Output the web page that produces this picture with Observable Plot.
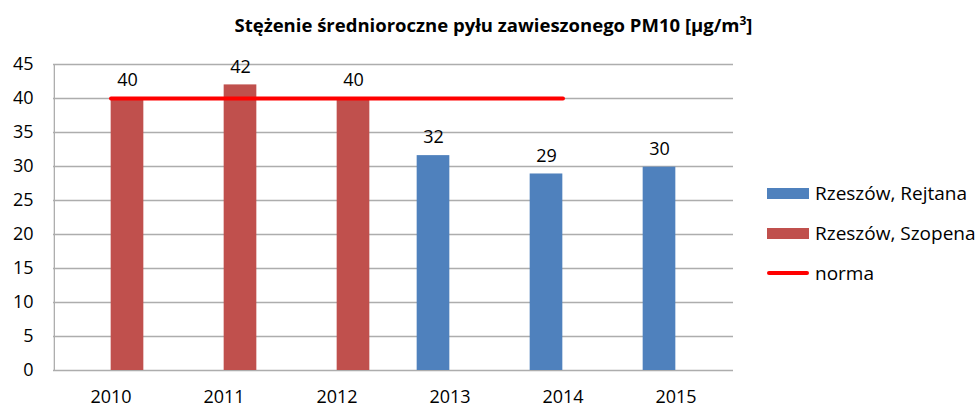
<!DOCTYPE html>
<html>
<head>
<meta charset="utf-8">
<script src="https://cdn.jsdelivr.net/npm/d3@7"></script>
<script src="https://cdn.jsdelivr.net/npm/@observablehq/plot@0.6"></script>
<style>
  html, body { margin: 0; padding: 0; background: #fff; }
  #wrap { position: relative; width: 977px; height: 408px; font-family: "Open Sans", sans-serif; color: #000; }
  #title { position: absolute; left: 0; width: 977px; top: 12px; text-align: center; font-weight: bold; font-size: 18.5px; margin-left: 5px; }
  #legend { position: absolute; left: 767px; top: 173px; font-size: 19px; }
  .item { display: flex; align-items: center; height: 40px; }
  .sw { width: 42px; height: 11px; margin-right: 6px; }
  .ln { width: 42px; height: 4px; border-radius: 2px; margin-right: 6px; }
  #chart svg g[aria-label*="tick label"], #chart svg g[aria-label*="tick label"] text { font-size: 18px !important; fill: #000; }
</style>
</head>
<body>
<div id="wrap">
  <div id="chart"></div>
  <div id="title">Stężenie średnioroczne pyłu zawieszonego PM10 [μg/m<sup style="font-size:12px">3</sup>]</div>
  <div id="legend"></div>
</div>
<script>
const years = ["2010", "2011", "2012", "2013", "2014", "2015"];
const rejtana = [null, null, null, 31.6, 28.9, 29.9];
const szopena = [40, 42, 40, null, null, null];
const norma = [40, 40, 40, 40, 40, null];
const yTicks = [0, 5, 10, 15, 20, 25, 30, 35, 40, 45];
const seriesNames = ["Rzeszów, Rejtana", "Rzeszów, Szopena", "norma"];
const colors = ["#4F81BD", "#C0504D", "#FF0000"];

const W = 977, H = 408, mL = 53, mR = 244, mT = 64, mB = 38;
const band = (W - mL - mR) / years.length;
const barW = 33;

const rej = years.map((y, i) => ({year: y, v: rejtana[i]})).filter(d => d.v != null);
const szo = years.map((y, i) => ({year: y, v: szopena[i]})).filter(d => d.v != null);
const nor = years.map((y, i) => ({year: y, v: norma[i]})).filter(d => d.v != null);

const chart = Plot.plot({
  width: W, height: H,
  marginLeft: mL, marginRight: mR, marginTop: mT, marginBottom: mB,
  style: {fontFamily: "Open Sans, sans-serif", fontSize: "18px", color: "#000", background: "transparent"},
  x: {domain: years, padding: 0, label: null, tickSize: 0, tickPadding: 20, fontSize: 18},
  y: {domain: [0, 45], ticks: yTicks, label: null, tickSize: 0, tickPadding: 20, fontSize: 18},
  marks: [
    Plot.ruleY(yTicks, {stroke: "#ADADAD", strokeWidth: 1.3}),
    Plot.ruleX([years[0]], {dx: -band / 2, y1: 0, y2: 45, stroke: "#ADADAD", strokeWidth: 1.3}),
    Plot.barY(szo, {x: "year", y: "v", fill: colors[1], insetLeft: band / 2, insetRight: band / 2 - barW}),
    Plot.barY(rej, {x: "year", y: "v", fill: colors[0], insetLeft: band / 2 - barW, insetRight: band / 2}),
    Plot.lineY(nor, {x: "year", y: "v", stroke: colors[2], strokeWidth: 4, strokeLinecap: "round"}),
    Plot.text(szo, {x: "year", y: "v", text: d => d3.format(".0f")(d.v), dx: barW / 2, dy: -18, fontSize: 18, fill: "#000"}),
    Plot.text(rej, {x: "year", y: "v", text: d => d3.format(".0f")(d.v), dx: -barW / 2, dy: -18, fontSize: 18, fill: "#000"})
  ]
});
document.getElementById("chart").appendChild(chart);

const legend = document.getElementById("legend");
seriesNames.forEach((name, i) => {
  const item = document.createElement("div");
  item.className = "item";
  const sw = document.createElement("div");
  sw.className = i < 2 ? "sw" : "ln";
  sw.style.background = colors[i];
  const t = document.createElement("span");
  t.textContent = name;
  item.appendChild(sw);
  item.appendChild(t);
  legend.appendChild(item);
});
</script>
</body>
</html>
